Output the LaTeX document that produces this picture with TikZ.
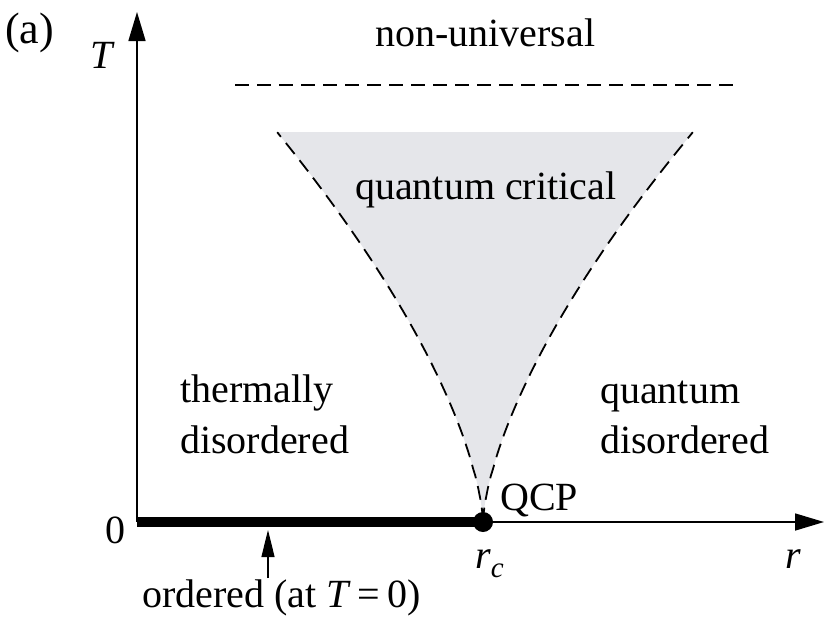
\documentclass[tikz,border=0pt]{standalone}
\usepackage{fontspec}
\setmainfont{Liberation Serif}
\usetikzlibrary{arrows.meta}
\definecolor{qcgray}{RGB}{229,230,234}
\tikzset{
  axis/.style={line width=1.6pt, -{Triangle[length=29pt,width=17pt]}},
  crossover/.style={line width=1.8pt, dash pattern=on 14pt off 8pt},
  lbl/.style={inner sep=0pt, anchor=base west, font=\fontsize{40}{48}\selectfont},
}
\begin{document}
\begin{tikzpicture}[x=1pt,y=-1pt]
        \useasboundingbox (0,0) rectangle (824,616);
        % Quantum critical fan
        \fill[qcgray] (483,522) -- plot[domain=0.001:1, samples=60] ({483-206*\x^1.54},{522-390*\x})
            -- plot[domain=1:0.001, samples=60] ({483+210*\x^1.54},{522-390*\x}) -- cycle;
        \draw[crossover] plot[domain=0.001:1, samples=60] ({483-206*\x^1.54},{522-390*\x});
        \draw[crossover] plot[domain=0.001:1, samples=60] ({483+210*\x^1.54},{522-390*\x});

        % Non-universal boundary
        \draw[crossover] (235,85) -- (735,85);

        % Axes
        \coordinate (O) at (137,522);
        \coordinate (Tend) at (137,12);
        \coordinate (rend) at (824,522);
        \draw[axis] (O) -- (Tend);
        \draw[axis] (O) -- (rend);

        % Ordered line and QCP
        \node[circle, fill, inner sep=0pt, minimum size=20pt] (qcp) at (483,522) {};
        \draw[line width=10pt] (O) -- (qcp.center);

        % Ordered annotation
        \coordinate (ordtail) at (268,578);
        \coordinate (ordtip) at (268,530);
        \draw[line width=1.2pt, -{Triangle[length=27pt,width=13pt]}] (ordtail) -- (ordtip);

        % Labels
        \node[lbl, font=\fontsize{44}{50}\selectfont] (panel) at (5,43) {(a)};
        \node[lbl] (Tlab) at (90,68) {\textit{T}};
        \node[lbl] (nonuniv) at (375,46) {non-universal};
        \node[lbl] (qcrit) at (355,199) {quantum critical};
        \node[lbl] (therm) at (180,402) {thermally};
        \node[lbl] (thermdis) at (180,453) {disordered};
        \node[lbl] (quant) at (600,403) {quantum};
        \node[lbl] (quantdis) at (600,453) {disordered};
        \node[lbl] (qcplab) at (500,510) {QCP};
        \node[lbl] (zero) at (105,543) {0};
        \node[lbl] (rclab) at (475,568) {\textit{r}\raisebox{-9pt}{\fontsize{29}{32}\selectfont\textit{c}}};
        \node[lbl] (rlab) at (785,568) {\textit{r}};
        \node[lbl] (ordlab) at (142,607) {ordered (at \textit{T}\,=\,0)};
    \end{tikzpicture}
\end{document}
